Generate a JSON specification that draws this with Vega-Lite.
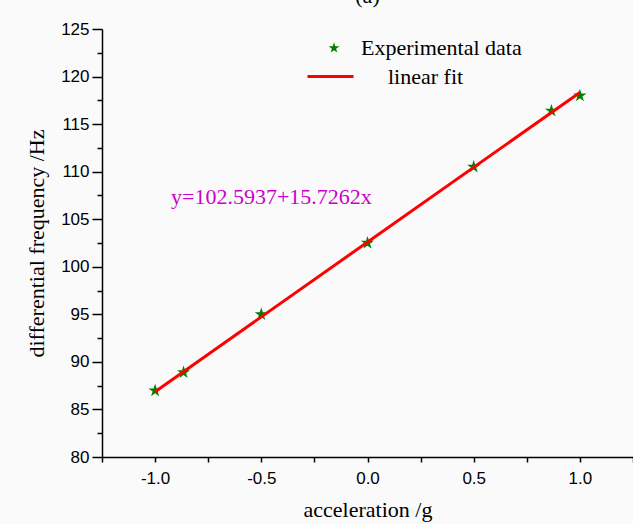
{
  "$schema": "https://vega.github.io/schema/vega-lite/v6.json",
  "width": 531,
  "height": 428,
  "autosize": {"type": "none"},
  "padding": {"left": 102, "top": 29, "right": 0, "bottom": 67},
  "background": "#fafafa",
  "title": {"text": "(a)", "font": "Liberation Serif", "fontSize": 22, "fontWeight": "normal", "color": "black", "anchor": "middle", "offset": 12},
  "config": {
    "view": {"stroke": null},
    "axis": {
      "domainColor": "black", "domainWidth": 1.5, "tickColor": "black", "tickWidth": 1.5,
      "labelFont": "Liberation Sans", "labelFontSize": 17, "labelColor": "black",
      "titleFont": "Liberation Serif", "titleFontSize": 22, "titleFontWeight": "normal", "titleColor": "black",
      "grid": false
    },
    "legend": {"labelFont": "Liberation Serif", "labelFontSize": 22, "labelColor": "black", "padding": 0, "labelLimit": 400}
  },
  "datasets": {
    "pts": [
      {"x": -1.0, "y": 86.97, "series": "Experimental data"},
      {"x": -0.866, "y": 88.9, "series": "Experimental data"},
      {"x": -0.5, "y": 95.0, "series": "Experimental data"},
      {"x": 0.0, "y": 102.5, "series": "Experimental data"},
      {"x": 0.5, "y": 110.5, "series": "Experimental data"},
      {"x": 0.866, "y": 116.4, "series": "Experimental data"},
      {"x": 1.0, "y": 118.0, "series": "Experimental data"}
    ],
    "fit": [
      {"x": -1.0, "y": 86.8675, "series": "linear fit"},
      {"x": 1.0, "y": 118.3199, "series": "linear fit"}
    ],
    "eq": [
      {"x": -0.925, "y": 107.3, "label": "y=102.5937+15.7262x"}
    ]
  },
  "layer": [
    {
      "data": {"name": "pts"},
      "mark": {"type": "point", "filled": true, "opacity": 1, "size": 190,
        "shape": "M0,-1L0.224,-0.309L0.951,-0.309L0.363,0.118L0.588,0.809L0,0.382L-0.588,0.809L-0.363,0.118L-0.951,-0.309L-0.224,-0.309Z"},
      "encoding": {
        "x": {"field": "x", "type": "quantitative", "scale": {"domain": [-1.25, 1.25], "nice": false, "zero": false},
          "axis": {"orient": "bottom", "values": [-1, -0.5, 0, 0.5, 1], "labelExpr": "datum.value < 0 ? '-' + format(-datum.value, '.1f') : format(datum.value, '.1f')", "title": "acceleration /g", "tickSize": 5, "labelPadding": 8, "titlePadding": 13}},
        "y": {"field": "y", "type": "quantitative", "scale": {"domain": [80, 125], "nice": false, "zero": false},
          "axis": {"orient": "left", "values": [80, 85, 90, 95, 100, 105, 110, 115, 120, 125], "format": "d", "title": "differential frequency /Hz", "tickSize": 10, "labelPadding": 3, "titlePadding": 12}},
        "color": {"field": "series", "type": "nominal", "scale": {"domain": ["Experimental data"], "range": ["#008000"]},
          "legend": {"title": null, "orient": "none", "legendX": 221, "legendY": 8, "symbolSize": 130,
            "symbolType": "M0,-1L0.224,-0.309L0.951,-0.309L0.363,0.118L0.588,0.809L0,0.382L-0.588,0.809L-0.363,0.118L-0.951,-0.309L-0.224,-0.309Z",
            "symbolFillColor": "#008000", "symbolStrokeWidth": 0, "symbolOpacity": 1, "labelOffset": 16}}
      }
    },
    {
      "data": {"name": "fit"},
      "mark": {"type": "line", "strokeWidth": 3},
      "encoding": {
        "x": {"field": "x", "type": "quantitative", "axis": null},
        "y": {"field": "y", "type": "quantitative", "axis": null},
        "color": {"field": "series", "type": "nominal", "scale": {"domain": ["linear fit"], "range": ["#ff0000"]},
          "legend": {"title": null, "orient": "none", "legendX": 204, "legendY": 23, "symbolType": "stroke", "symbolSize": 2116, "symbolStrokeWidth": 3, "labelOffset": 33}}
      }
    },
    {
      "data": {"name": "eq"},
      "mark": {"type": "text", "align": "left", "baseline": "middle", "font": "Liberation Serif", "fontSize": 22, "color": "#cc00cc"},
      "encoding": {
        "x": {"field": "x", "type": "quantitative", "axis": null},
        "y": {"field": "y", "type": "quantitative", "axis": null},
        "text": {"field": "label", "type": "nominal"}
      }
    },
    {
      "data": {"name": "pts"},
      "mark": {"type": "point", "opacity": 0},
      "encoding": {
        "x": {"field": "x", "type": "quantitative",
          "axis": {"orient": "bottom", "values": [-1.25, -0.75, -0.25, 0.25, 0.75, 1.25], "labels": false, "domain": false, "title": null, "tickSize": 5}},
        "y": {"field": "y", "type": "quantitative",
          "axis": {"orient": "left", "values": [82.5, 87.5, 92.5, 97.5, 102.5, 107.5, 112.5, 117.5, 122.5], "labels": false, "domain": false, "title": null, "tickSize": 5}}
      }
    }
  ],
  "resolve": {"scale": {"color": "independent"}, "axis": {"x": "independent", "y": "independent"}}
}
